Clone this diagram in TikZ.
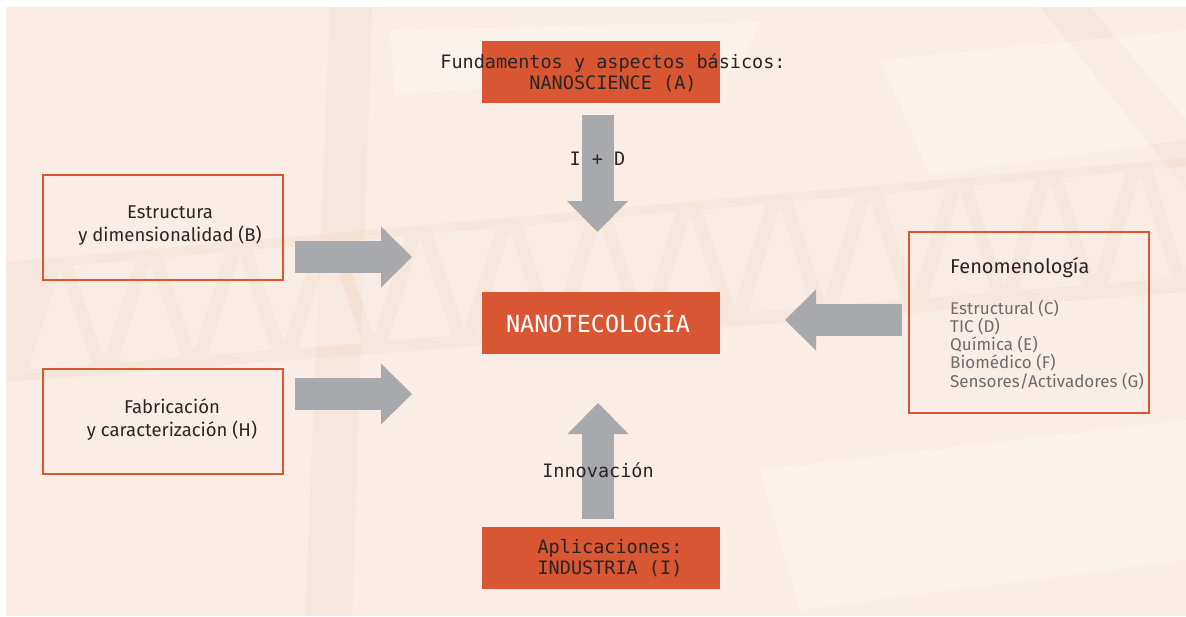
\documentclass[tikz,border=0pt]{standalone}
\usepackage{fontspec}
\setmainfont{Fira Sans}
\newfontfamily\nanomono{DejaVu Sans Mono}
\usetikzlibrary{arrows.meta}
\definecolor{nanored}{RGB}{216,86,50}
\definecolor{arrowgray}{RGB}{167,169,172}
\definecolor{paper}{RGB}{250,237,229}
\definecolor{trussc}{RGB}{243,214,198}
\definecolor{inkc}{RGB}{40,38,38}
\definecolor{softc}{RGB}{108,108,110}

\begin{document}
\begin{tikzpicture}[x=1pt, y=-1pt,
  redbox/.style={rectangle, fill=nanored, minimum width=238pt, minimum height=62pt, inner sep=0pt},
  linebox/.style={rectangle, draw=nanored, line width=1.3pt, minimum width=240pt, inner sep=0pt},
  monotext/.style={font=\nanomono\fontsize{18.5}{21}\selectfont, text=inkc, align=center, inner sep=0pt},
  boxtext/.style={font=\fontsize{18.5}{23}\selectfont, text=inkc, align=center, inner sep=0pt},
  softtext/.style={font=\fontsize{17}{18}\selectfont, text=softc, anchor=base west, inner sep=0pt},
  bigarrow/.style={arrowgray, line width=32pt, -{Triangle[length=31pt, width=61pt, line width=0pt]}},
  beam/.style={fill=trussc, opacity=0.3},
  glare/.style={fill=white, opacity=0.28}]

  \useasboundingbox (0,0) rectangle (1186,616);
  \fill[paper] (6,7) rectangle (1186,616);

  % faint truss behind the diagram
  \fill[beam] (6,262) -- (1186,158) -- (1186,292) -- (6,382) -- cycle;
  \fill[beam] (330,7) -- (372,7) -- (352,616) -- (305,616) -- cycle;
  \fill[beam] (1040,7) -- (1090,7) -- (1186,120) -- (1186,190) -- cycle;
  \foreach \x in {20,110,...,1100} {
    \fill[glare] ({\x+8},{372-0.08*(\x+8)}) -- ({\x+72},{372-0.08*(\x+72)}) -- ({\x+40},{276-0.089*(\x+40)}) -- cycle;
    \fill[glare] ({\x+52},{272-0.089*(\x+52)}) -- ({\x+116},{272-0.089*(\x+116)}) -- ({\x+84},{366-0.08*(\x+84)}) -- cycle;
  }
  \fill[glare] (880,60) -- (1186,30) -- (1186,140) -- (930,175) -- cycle;
  \fill[glare] (390,30) -- (760,22) -- (740,70) -- (395,95) -- cycle;
  \fill[glare] (760,470) -- (1186,420) -- (1186,560) -- (800,610) -- cycle;

  % central blocks
  \node[redbox] (science) at (601,72) {};
  \node[monotext] (scienceText) at (613,72.5) {Fundamentos y aspectos básicos:\\NANOSCIENCE (A)};
  \node[redbox] (nano) at (601,323) {};
  \node[monotext, text=white, font=\nanomono\fontsize{23.5}{26}\selectfont] (nanoText) at (598,322) {NANOTECOLOGÍA};
  \node[redbox] (industry) at (601,558) {};
  \node[monotext] (industryText) at (610,558) {Aplicaciones:\\INDUSTRIA (I)};

  % side blocks
  \node[linebox, minimum height=105pt] (structure) at (163,227.5) {};
  \node[boxtext] (structureText) at (170,226) {Estructura\\y dimensionalidad (B)};
  \node[linebox, minimum height=105pt] (making) at (163,421.5) {};
  \node[boxtext] (makingText) at (172,420) {Fabricación\\y caracterización (H)};
  \node[linebox, minimum height=181pt] (phenom) at (1029,322.5) {};
  \node[boxtext, font=\fontsize{20}{23}\selectfont, anchor=base west] (phenomText) at (950,273) {Fenomenología};
  \foreach \t [count=\i] in {Estructural (C), TIC (D), Química (E), Biomédico (F), Sensores/Activadores (G)}
    \node[softtext] (phen\i) at (950,{314+18.3*(\i-1)}) {\t};

  % arrow ends
  \coordinate (rdTip) at (597.5,232);
  \coordinate (innTip) at (598,403);
  \coordinate (bTip) at (412,257);
  \coordinate (hTip) at (412,394);
  \coordinate (pTip) at (785,320);

  \draw[bigarrow] ([yshift=-12pt]science.south -| rdTip) -- node[monotext, pos=0.37] (rdLabel) {I + D} (rdTip);
  \draw[bigarrow] ([yshift=8pt]industry.north -| innTip) -- node[monotext, pos=0.42] (innLabel) {Innovación} (innTip);
  \draw[bigarrow] ([xshift=11pt]structure.east |- bTip) -- (bTip);
  \draw[bigarrow] ([xshift=11pt]making.east |- hTip) -- (hTip);
  \draw[bigarrow] ([xshift=-6pt]phenom.west |- pTip) -- (pTip);

\end{tikzpicture}
\end{document}
